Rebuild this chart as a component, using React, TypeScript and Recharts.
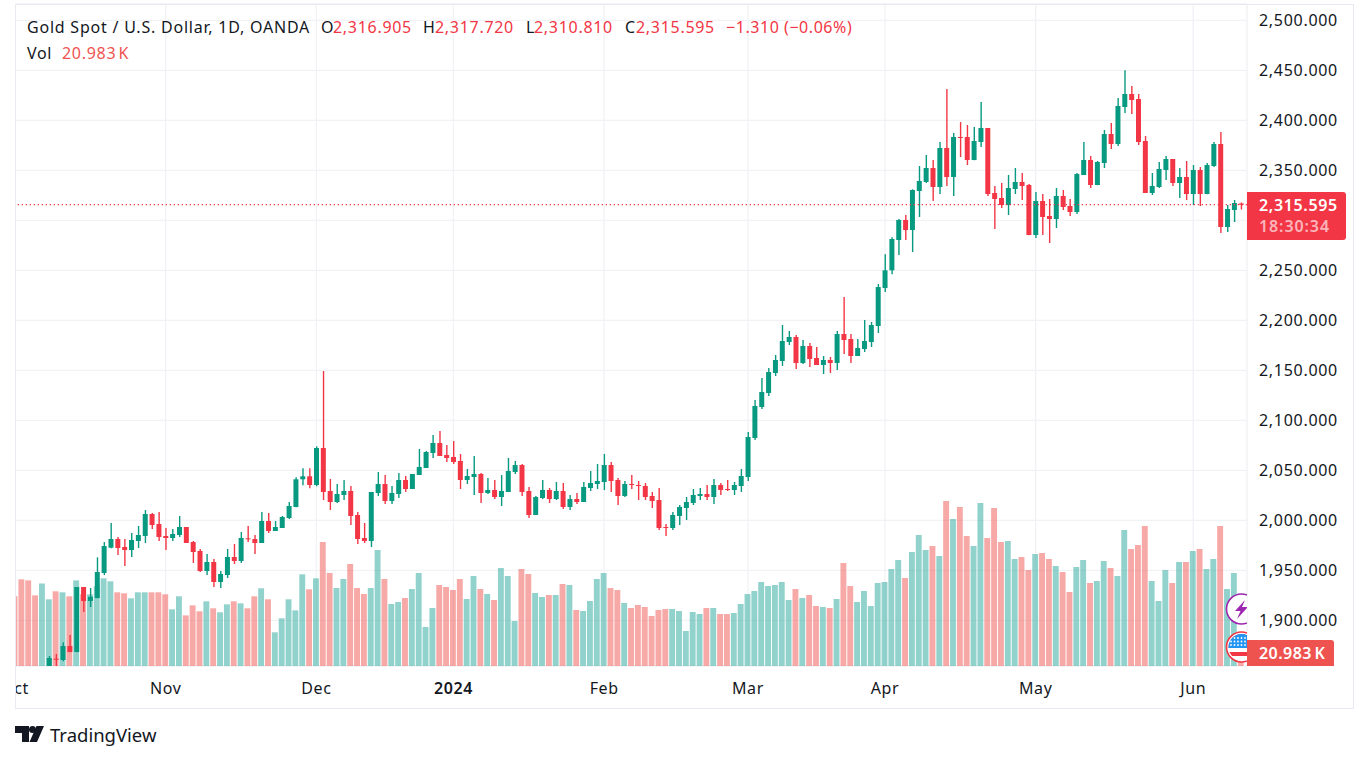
import React from "react";
import {
  Bar,
  CartesianGrid,
  Cell,
  ComposedChart,
  ReferenceLine,
  XAxis,
  YAxis,
} from "recharts";

const FONT = '"Noto Sans", sans-serif';
const GREEN = "#089981";
const RED = "#F23645";
const VOL_GREEN = "rgba(38,166,154,0.5)";
const VOL_RED = "rgba(239,83,80,0.5)";
const TEXT = "#131722";

const opens = [
  1848, 1835, 1824, 1822, 1821, 1832.5, 1861.6, 1860.3, 1874.3, 1868.3,
  1933.3, 1919.3, 1922.3, 1947.3, 1972.6, 1981.3, 1973.3, 1970.3, 1979.3, 1984.3,
  2006.3, 1996.3, 1984.3, 1982.3, 1985.3, 1993.3, 1978.3, 1969.3, 1949.3, 1958.3,
  1938.3, 1945.3, 1963.3, 1959.3, 1982, 1981.3, 1977.3, 1999.3, 1989.3, 1992.3,
  2002.3, 2013.3, 2041, 2044, 2035.3, 2072.3, 2029.3, 2018.3, 2025.3, 2029.3,
  2005.3, 1982.3, 1979.3, 2027.3, 2036.3, 2019.3, 2026.3, 2040.3, 2031.3, 2045.3,
  2052.3, 2067.3, 2077.3, 2065.3, 2063.3, 2059.3, 2040.3, 2043.3, 2046.3, 2027.3,
  2030.3, 2023.3, 2028.3, 2048.3, 2055.3, 2029.3, 2005.3, 2022.3, 2030.3, 2021.3,
  2029.3, 2013.3, 2021.3, 2018.3, 2032.3, 2036.3, 2038.3, 2055.3, 2040.3, 2024.3,
  2036.3, 2035.3, 2034.3, 2024.3, 2020.3, 1993.3, 1992.3, 2004.3, 2012.3, 2017.3,
  2024.3, 2026.3, 2023.3, 2035.3, 2031.3, 2030.3, 2034.3, 2043.3, 2082.3, 2113.3,
  2127.3, 2147.3, 2159.3, 2178.3, 2183.3, 2157.3, 2174.3, 2162.3, 2155.3, 2160.3,
  2157.3, 2186.3, 2181.3, 2164.3, 2171.3, 2178.3, 2194.3, 2232.3, 2250, 2280.3,
  2300.3, 2290.3, 2329.3, 2338.3, 2352.3, 2333.3, 2372.3, 2343.3, 2383.3, 2383.3,
  2360.3, 2378.3, 2392.3, 2327.3, 2322.3, 2315.3, 2331.3, 2338.3, 2335.3, 2285.3,
  2319.3, 2304.3, 2301.3, 2324.3, 2314.3, 2308.3, 2345.3, 2360.3, 2335.3, 2357.3,
  2386.3, 2376.3, 2413.3, 2426.3, 2421.3, 2379.3, 2327.3, 2333.3, 2350.3, 2361.3,
  2337.3, 2343.3, 2326.3, 2350.3, 2326.3, 2354.3, 2376.3, 2293.3, 2310.3, 2316.905,
];

const closes = [
  1830, 1823, 1821, 1820, 1832, 1862.3, 1860.5, 1874.3, 1868.3, 1933.3,
  1919.3, 1923.6, 1948.3, 1974.3, 1981.3, 1972.3, 1970.3, 1980.3, 1985.3, 2006.3,
  1995.3, 1983.3, 1982.3, 1986.3, 1993.3, 1977.3, 1968.3, 1949.3, 1958.3, 1938.3,
  1946.3, 1963.3, 1959.3, 1982.3, 1981, 1977.3, 1999.3, 1989.3, 1993.3, 2003.3,
  2014.3, 2041, 2044, 2035.3, 2072.3, 2028.3, 2018.3, 2026.3, 2029.3, 2004.3,
  1981.3, 1979.3, 2028.3, 2036.3, 2019.3, 2027.3, 2040.3, 2031.3, 2046.3, 2053.3,
  2068.3, 2077.3, 2064.3, 2062.3, 2058.3, 2040.3, 2044.3, 2046.3, 2027.3, 2030.3,
  2023.3, 2029.3, 2049.3, 2055.3, 2028.3, 2005.3, 2023.3, 2030.3, 2021.3, 2029.3,
  2013.3, 2021.3, 2018.3, 2033.3, 2037.3, 2039.3, 2055.3, 2039.3, 2024.3, 2036.3,
  2035.3, 2034.3, 2023.3, 2019.3, 1992.3, 1992.3, 2005.3, 2013.3, 2018.3, 2025.3,
  2026.3, 2023.3, 2035.3, 2030.3, 2030.3, 2035.3, 2044.3, 2083.3, 2114.3, 2128.3,
  2148.3, 2160.3, 2179.3, 2183.3, 2157.3, 2174.3, 2161.3, 2155.3, 2160.3, 2157.3,
  2186.3, 2180.3, 2164.3, 2172.3, 2179.3, 2195.3, 2233.3, 2250, 2281.3, 2300.3,
  2290.3, 2330.3, 2339.3, 2352.3, 2333.3, 2372.3, 2343.3, 2383.3, 2382.3, 2360.3,
  2379.3, 2392.3, 2326.3, 2321.3, 2315.3, 2332.3, 2338.3, 2334.3, 2285.3, 2319.3,
  2303.3, 2301.3, 2324.3, 2313.3, 2308.3, 2346.3, 2360.3, 2335.3, 2358.3, 2386.3,
  2376.3, 2414.3, 2426.3, 2420.3, 2378.3, 2327.3, 2334.3, 2351.3, 2361.3, 2337.3,
  2343.3, 2326.3, 2350.3, 2326.3, 2355.3, 2376.3, 2293.3, 2311.3, 2317.3, 2315.595,
];

const highs = [
  1851, 1840, 1829, 1826, 1838, 1864.3, 1866.3, 1878, 1885.3, 1933.3,
  1933.3, 1932.3, 1963, 1978.3, 1997.3, 1983.3, 1981.3, 1987.3, 1994.3, 2010.3,
  2007.3, 2008.3, 1992.3, 1991.3, 2004.3, 1993.3, 1979.3, 1971.3, 1966.3, 1961.3,
  1949.3, 1971.3, 1976.3, 1988.3, 1994.3, 1985.3, 2008.3, 2007.3, 1999.3, 2004.3,
  2018.3, 2043, 2052, 2052, 2074, 2149.3, 2041.3, 2036.3, 2040.3, 2034.3,
  2008.3, 1997.3, 2028.3, 2048.3, 2045.3, 2034.3, 2047.3, 2044.3, 2046.3, 2071.3,
  2069.3, 2085.3, 2089.3, 2075.3, 2079.3, 2066.3, 2051.3, 2064.3, 2047.3, 2042.3,
  2040.3, 2045.3, 2062.3, 2059.3, 2056.3, 2033.3, 2024.3, 2040.3, 2032.3, 2038.3,
  2037.3, 2025.3, 2027.3, 2038.3, 2049.3, 2056.3, 2066.3, 2058.3, 2042.3, 2039.3,
  2045.3, 2039.3, 2037.3, 2028.3, 2032.3, 1996.3, 2008.3, 2015.3, 2023.3, 2031.3,
  2032.3, 2035.3, 2041.3, 2037.3, 2040.3, 2038.3, 2051.3, 2088.3, 2120.3, 2142.3,
  2152.3, 2165.3, 2195.3, 2189.3, 2185.3, 2180.3, 2177.3, 2173.3, 2164.3, 2163.3,
  2189.3, 2223.3, 2186.3, 2181.3, 2200.3, 2198.3, 2236.3, 2266, 2283, 2301.3,
  2305.3, 2331, 2354.3, 2365.3, 2360.3, 2378.3, 2431.3, 2387.3, 2398.3, 2395.3,
  2393.3, 2418.3, 2392.3, 2334.3, 2337.3, 2345.3, 2352.3, 2347.3, 2336.3, 2328.3,
  2326.3, 2321.3, 2332.3, 2330.3, 2321.3, 2347.3, 2378.3, 2364.3, 2359.3, 2390.3,
  2397.3, 2422.3, 2450, 2434.3, 2426.3, 2384.3, 2347.3, 2358.3, 2364.3, 2361.3,
  2352.3, 2359.3, 2355.3, 2353.3, 2357.3, 2378.3, 2388.3, 2315.3, 2320.3, 2317.72,
];

const lows = [
  1826, 1815, 1815, 1812, 1820, 1826, 1850, 1859, 1868, 1868,
  1908.3, 1913.3, 1922, 1945.3, 1972, 1965.3, 1954.3, 1963.3, 1972.3, 1977.3,
  1991.3, 1979.3, 1970.3, 1979.3, 1983.3, 1977.3, 1957.3, 1948.3, 1945.3, 1933.3,
  1932.3, 1942.3, 1956.3, 1957.3, 1978.3, 1966.3, 1977.3, 1987.3, 1989.3, 1992.3,
  2001.3, 2013, 2035, 2032, 2034, 2020.3, 2010.3, 2017.3, 2020.3, 1995.3,
  1976.3, 1977.3, 1973.3, 2024.3, 2016.3, 2016.3, 2022.3, 2028.3, 2031.3, 2045.3,
  2052.3, 2062.3, 2064.3, 2058.3, 2056.3, 2031.3, 2036.3, 2025.3, 2017.3, 2026.3,
  2021.3, 2014.3, 2028.3, 2046.3, 2024.3, 2002.3, 2005.3, 2021.3, 2017.3, 2020.3,
  2011.3, 2010.3, 2016.3, 2018.3, 2029.3, 2031.3, 2030.3, 2028.3, 2015.3, 2023.3,
  2031.3, 2020.3, 2020.3, 2012.3, 1990.3, 1984.3, 1990.3, 1995.3, 2000.3, 2015.3,
  2020.3, 2020.3, 2016.3, 2025.3, 2029.3, 2025.3, 2028.3, 2039.3, 2080.3, 2111.3,
  2124.3, 2144.3, 2154.3, 2175.3, 2151.3, 2156.3, 2153.3, 2155.3, 2146.3, 2147.3,
  2150.3, 2166.3, 2157.3, 2164.3, 2168.3, 2173.3, 2187.3, 2228.3, 2246, 2265.3,
  2280.3, 2268.3, 2303.3, 2337.3, 2319.3, 2326.3, 2334.3, 2324.3, 2363.3, 2355.3,
  2360, 2373.3, 2324.3, 2291.3, 2312.3, 2305.3, 2326.3, 2320.3, 2285, 2282.3,
  2285.3, 2277.3, 2292.3, 2310.3, 2304.3, 2306.3, 2345.3, 2332.3, 2335, 2352.3,
  2371.3, 2374.3, 2407.3, 2406.3, 2375.3, 2327.3, 2325.3, 2332.3, 2340.3, 2334.3,
  2322.3, 2320.3, 2315.3, 2314.3, 2326, 2353.3, 2287.3, 2288.3, 2298.3, 2310.81,
];

// thousands
const volumes = [
  111.5, 138.7, 137, 113, 132, 106.7, 119.5, 117.9, 111.5, 137,
  114.7, 114.7, 127.5, 140.3, 135.5, 117.9, 116.3, 108.3, 117.9, 117.9,
  117.9, 117.9, 114.7, 90.7, 111.5, 81, 97, 87.5, 103.5, 92.3,
  85.9, 98.7, 103.5, 100.3, 92.3, 111.5, 124.3, 106.7, 53.9, 76.3,
  106.7, 89, 146.7, 122.7, 140.3, 198.4, 148.8, 124.8, 139.2, 163.2,
  124.8, 115.2, 124.8, 185.6, 139.2, 99.2, 102.4, 108.8, 123.2, 148.8,
  62.4, 92.8, 129.6, 126.4, 121.6, 139.2, 107.2, 144, 123.2, 115.2,
  105.6, 156.8, 144, 72, 155.2, 147.2, 116.8, 110.4, 113.6, 113.6,
  131.2, 129.6, 89.6, 88, 104, 139.2, 148.8, 124.8, 121.6, 100.8,
  92.8, 97.6, 94.4, 80, 89.6, 91.2, 91.2, 88, 56, 86.4,
  83.2, 92.8, 92.8, 83.2, 83.2, 84.8, 99.2, 115.2, 120, 134.4,
  128, 129.6, 134.4, 105.6, 123.2, 108.8, 113.6, 96, 94.4, 92.8,
  107.2, 164.8, 128, 102.4, 120, 96, 132.8, 134.4, 155.2, 169.6,
  140.8, 182.4, 209.6, 185.6, 192, 176, 264, 235.2, 254.4, 208,
  192, 260.8, 204.8, 252.8, 198.4, 200, 171.2, 174.4, 153.6, 179.2,
  180.8, 171.2, 160, 150.4, 118.4, 158.4, 169.6, 132.8, 136, 168,
  156.8, 144, 217.6, 187.2, 193.6, 224, 136, 104, 153.6, 132.8,
  166.4, 166.4, 184, 187.2, 155.2, 171.2, 224, 123.2, 148.8, 20.983,
];

const priceTicks = [
  1900, 1950, 2000, 2050, 2100, 2150, 2200, 2250, 2300, 2350, 2400, 2450, 2500,
];
// this tick sits behind the last-price tag, so it only keeps its grid line
const coveredTick = 2300;
const monthStarts = [0, 22, 44, 64, 86, 107, 127, 149, 172];
const monthLabels = ["Oct", "Nov", "Dec", "2024", "Feb", "Mar", "Apr", "May", "Jun"];

const lastPrice = 2315.595;

const table = opens.map((o, i) => ({
  i,
  body: [Math.min(o, closes[i]), Math.max(o, closes[i])],
  wick: [lows[i], highs[i]],
  vol: volumes[i],
  up: closes[i] >= o,
}));

const fmtPrice = (v: number) =>
  v.toLocaleString("en-US", { minimumFractionDigits: 3, maximumFractionDigits: 3 });

function MonthTick({ x, y, payload }: any) {
  const label = monthLabels[monthStarts.indexOf(payload.value)];
  return (
    <text
      x={x}
      y={y}
      textAnchor="middle"
      dominantBaseline="middle"
      fontFamily={FONT}
      fontSize={16}
      letterSpacing={0.6}
      fontWeight={label === "2024" ? 600 : 400}
      fill={TEXT}
    >
      {label}
    </text>
  );
}

function PriceTick({ x, y, payload }: any) {
  if (payload.value === coveredTick) return null;
  return (
    <text
      x={x}
      y={y + 1}
      dominantBaseline="middle"
      fontFamily={FONT}
      fontSize={16}
      letterSpacing={0.7}
      fill={TEXT}
    >
      {fmtPrice(payload.value)}
    </text>
  );
}

function Txt({ x, y, color = TEXT, size = 16, weight = 400, ls = 0.7, ws = 0, children }: any) {
  return (
    <div
      style={{
        position: "absolute",
        left: x,
        top: y - 12,
        height: 24,
        lineHeight: "24px",
        color,
        fontSize: size,
        fontWeight: weight,
        letterSpacing: ls,
        wordSpacing: ws,
        fontFamily: FONT,
        whiteSpace: "nowrap",
      }}
    >
      {children}
    </div>
  );
}

function Icons() {
  const dots: React.ReactNode[] = [];
  [638, 641.5, 645].forEach((cy) =>
    [1231, 1234.5, 1238, 1241.5, 1245].forEach((cx) =>
      dots.push(<circle key={`${cx}-${cy}`} cx={cx} cy={cy} r={0.9} fill="#fff" />)
    )
  );
  return (
    <svg
      width={1365}
      height={761}
      style={{ position: "absolute", left: 0, top: 0, clipPath: "inset(0 118px 95px 0)" }}
    >
      <defs>
        <clipPath id="flag">
          <circle cx={1241.5} cy={647} r={13} />
        </clipPath>
      </defs>
      <circle cx={1241.5} cy={609} r={15} fill="#fff" stroke="#9C27B0" strokeWidth={1.6} />
      <path d="M1245 600 L1235 611 L1240.5 611 L1237 619 L1248 607 L1242 607 Z" fill="#9C27B0" />
      <circle cx={1241.5} cy={647} r={15} fill="#fff" stroke={RED} strokeWidth={1.6} />
      <g clipPath="url(#flag)">
        <rect x={1228} y={634} width={28} height={6} fill={RED} />
        <rect x={1228} y={644} width={28} height={4} fill={RED} />
        <rect x={1228} y={652} width={28} height={4} fill={RED} />
        <rect x={1228} y={634} width={20} height={14} fill="#2196F3" />
        {dots}
      </g>
    </svg>
  );
}

export default function App() {
  return (
    <div style={{ position: "absolute", left: 0, top: 0, width: 1365, height: 761, background: "#fff", overflow: "hidden" }}>
      <div style={{ position: "absolute", left: 0, top: 0, clipPath: "inset(0 0 0 15px)" }}>
        <ComposedChart
          width={1365}
          height={761}
          data={table}
          margin={{ top: 4, right: 0, bottom: 0, left: 11.575 }}
        >
          <CartesianGrid xAxisId="body" yAxisId="price" stroke="#f1f2f5" strokeWidth={1.3} />
          <XAxis
            xAxisId="body"
            dataKey="i"
            type="category"
            scale="band"
            height={95}
            padding={{ left: 0, right: 2.4 }}
            ticks={monthStarts}
            interval={0}
            axisLine={false}
            tickLine={false}
            tickMargin={18}
            tick={<MonthTick />}
          />
          <XAxis xAxisId="wick" dataKey="i" type="category" scale="band" hide padding={{ left: 0, right: 2.4 }} />
          <XAxis xAxisId="vol" dataKey="i" type="category" scale="band" hide padding={{ left: 0, right: 2.4 }} />
          <YAxis
            yAxisId="price"
            orientation="right"
            width={118}
            domain={[1854.3, 2516.3]}
            allowDataOverflow
            ticks={priceTicks}
            interval={0}
            axisLine={false}
            tickLine={false}
            tickMargin={6}
            tick={<PriceTick />}
          />
          <YAxis yAxisId="volume" hide domain={[0, 1059.2]} allowDataOverflow />
          <ReferenceLine
            xAxisId="body"
            yAxisId="price"
            y={lastPrice}
            stroke={RED}
            strokeDasharray="1.3 2.7"
            strokeWidth={1.3}
          />
          <Bar xAxisId="vol" yAxisId="volume" dataKey="vol" barSize={5.9} isAnimationActive={false}>
            {table.map((d) => (
              <Cell key={d.i} fill={d.up ? VOL_GREEN : VOL_RED} />
            ))}
          </Bar>
          <Bar xAxisId="wick" yAxisId="price" dataKey="wick" barSize={1.4} isAnimationActive={false}>
            {table.map((d) => (
              <Cell key={d.i} fill={d.up ? GREEN : RED} />
            ))}
          </Bar>
          <Bar xAxisId="body" yAxisId="price" dataKey="body" barSize={5} minPointSize={1} isAnimationActive={false}>
            {table.map((d) => (
              <Cell key={d.i} fill={d.up ? GREEN : RED} />
            ))}
          </Bar>
        </ComposedChart>
      </div>

      <Icons />

      {/* frame */}
      <div style={{ position: "absolute", left: 14.5, top: 3.5, width: 1337, height: 703, border: "1.4px solid #e9eaf1", boxSizing: "content-box" }} />

      {/* legend */}
      <Txt x={27} y={27} ls={0.78}>Gold Spot / U.S. Dollar, 1D, OANDA</Txt>
      <Txt x={321} y={27}>O</Txt>
      <Txt x={333} y={27} color={RED}>2,316.905</Txt>
      <Txt x={423} y={27}>H</Txt>
      <Txt x={435} y={27} color={RED}>2,317.720</Txt>
      <Txt x={526} y={27}>L</Txt>
      <Txt x={534} y={27} color={RED}>2,310.810</Txt>
      <Txt x={625} y={27}>C</Txt>
      <Txt x={636} y={27} color={RED}>2,315.595</Txt>
      <Txt x={726} y={27} color={RED} ls={0.55}>−1.310 (−0.06%)</Txt>
      <Txt x={27} y={53}>Vol</Txt>
      <Txt x={62} y={53} color="#EF5350" ws={-2.5}>20.983 K</Txt>

      {/* last price tag */}
      <div style={{ position: "absolute", left: 1247, top: 192, width: 99, height: 48, background: RED, borderRadius: "0 3px 3px 0" }} />
      <Txt x={1259} y={205} color="#fff" weight={600} ls={0.65}>2,315.595</Txt>
      <Txt x={1259} y={226} color="rgba(255,255,255,0.65)" weight={600} ls={0.9}>18:30:34</Txt>

      {/* volume tag */}
      <div style={{ position: "absolute", left: 1247, top: 640, width: 87, height: 26, background: "#EF5350", borderRadius: "0 3px 0 0" }} />
      <Txt x={1259} y={653} color="#fff" weight={600} ls={0.45} ws={-2}>20.983 K</Txt>

      {/* footer */}
      <svg width={30} height={17} style={{ position: "absolute", left: 15, top: 726 }}>
        <path d="M0 0 H14 V16 H7 V7 H0 Z M22 16 L29 0 H21.5 L14.5 16 Z" fill={TEXT} />
        <circle cx={17.5} cy={3.5} r={3.5} fill={TEXT} />
      </svg>
      <Txt x={50} y={735} size={18.5} ls={0}>TradingView</Txt>
    </div>
  );
}
